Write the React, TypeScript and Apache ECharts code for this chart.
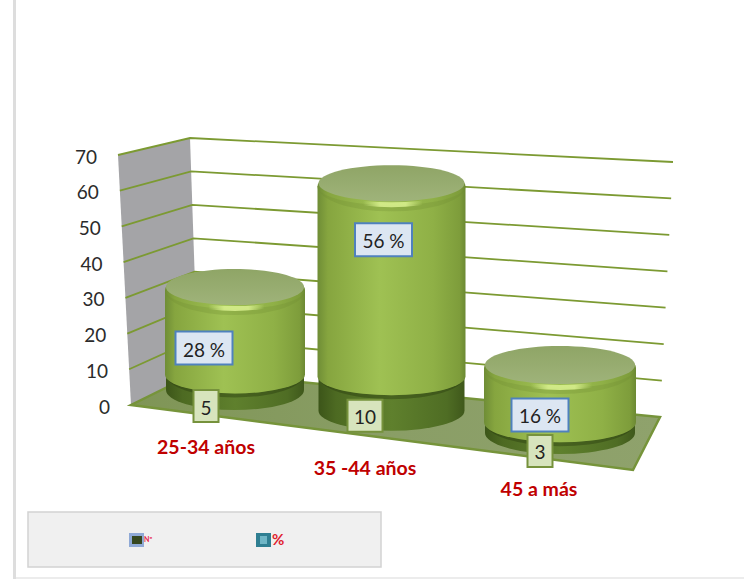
import React, { useEffect, useRef } from "react";
import * as echarts from "echarts";

// Chart data
const categories = ["25-34 años", "35 -44 años", "45 a más"];
const counts = [5, 10, 3];
const percents = [28, 56, 16];
const yTicks = [0, 10, 20, 30, 40, 50, 60, 70];

// Scene geometry for the tilted 3D plot box
const GRID = { left: 150, top: 165, width: 492, height: 240 };
const floorA = [131, 405];
const floorB = [633, 470];
const floorC = [660, 417];
const floorD = [198, 372];
const topA = [118, 155];
const topD = [190, 138];
const topC = [673, 162];

const cylinderLayout = [
  { nudge: 3, rx: 70, ry: 19, k: 0.91, pctDx: -31, pctDy: -42, cntDy: 16, catY: 446, cntX: 206, catX: 206 },
  { nudge: -4.5, rx: 74, ry: 19, k: 1.005, pctDx: -8, pctDy: -171, cntDy: 5, catY: 467, cntX: 365, catX: 365 },
  { nudge: 0, rx: 76, ry: 20, k: 1.044, pctDx: -20, pctDy: -18, cntDy: 18, catY: 488, cntX: 540, catX: 539 },
];

const lerp = (a: number[], b: number[], t: number) => [a[0] + (b[0] - a[0]) * t, a[1] + (b[1] - a[1]) * t];
const LG = (x2: number, y2: number, stops: [number, string][]) =>
  new echarts.graphic.LinearGradient(0, 0, x2, y2, stops.map(([offset, color]) => ({ offset, color })));

const fracOf = (api: any, v: number) => (GRID.top + GRID.height - api.coord([0, v])[1]) / GRID.height;

// Wall, floor and the gridline for each tick
function renderWalls() {
  return {
    type: "group",
    children: [
      {
        type: "polygon",
        shape: { points: [floorA, topA, topD, floorD] },
        style: { fill: "#a4a4a7" },
      },
      {
        type: "polygon",
        shape: { points: [floorA, floorB, floorC, floorD] },
        style: {
          fill: LG(1, 0, [[0, "#7f9556"], [0.5, "#8a9e66"], [1, "#8fa26c"]]),
          stroke: "#76943a",
          lineWidth: 2.5,
        },
      },
    ],
  };
}

function renderGridline(_p: any, api: any) {
  const f = fracOf(api, api.value(1));
  const a = lerp(floorA, topA, f);
  const d = lerp(floorD, topD, f);
  const c = lerp(floorC, topC, f);
  if (api.value(1) === 0) return { type: "group", children: [] };
  return {
    type: "polyline",
    shape: { points: [a, d, c] },
    style: { stroke: "#7c9a32", lineWidth: 1.8, fill: "none" },
  };
}

function renderTickLabel(_p: any, api: any) {
  const v = api.value(1);
  const f = fracOf(api, v);
  const a = lerp(floorA, topA, f);
  return {
    type: "text",
    style: {
      text: String(v),
      x: a[0] - 21,
      y: a[1] + 1,
      textAlign: "right",
      verticalAlign: "middle",
      font: "19px Lato",
      fill: "#2b2b2b",
    },
  };
}

// Base ellipse centre of a cylinder, following the slope of the floor
const placement = (api: any, i: number) => {
  const lay = cylinderLayout[i];
  const cx = api.coord([i, 0])[0] + lay.nudge;
  const baseY = 390 + (cx - 235) * 0.1323;
  const scaled = (v: number) => baseY - (GRID.top + GRID.height - api.coord([i, v])[1]) * lay.k;
  return { lay, cx, baseY, scaled };
};

const tube = (cx: number, rx: number, ry: number, topY: number, botY: number) => {
  const L = cx - rx;
  const R = cx + rx;
  return `M${L} ${topY}L${L} ${botY}A${rx} ${ry} 0 0 0 ${R} ${botY}L${R} ${topY}Z`;
};

const crescent = (cx: number, rx: number, ry: number, y: number, extra: number) =>
  `M${cx - rx} ${y}A${rx} ${ry + extra} 0 0 0 ${cx + rx} ${y}A${rx} ${ry} 0 0 1 ${cx - rx} ${y}Z`;

const bodyStops: [number, string][] = [
  [0, "#6f8d36"],
  [0.07, "#86a53f"],
  [0.42, "#9fc153"],
  [0.78, "#8fb046"],
  [0.96, "#7e9d3b"],
  [1, "#6c8933"],
];

function renderCountSegment(_p: any, api: any) {
  const i = api.value(0);
  const { lay, cx, baseY, scaled } = placement(api, i);
  const seamY = scaled(api.value(1));
  const { rx, ry } = lay;
  return {
    type: "group",
    children: [
      {
        type: "path",
        shape: { pathData: tube(cx, rx - 1, ry + 1, seamY, baseY) },
        style: {
          fill: LG(1, 0, [[0, "#3c5519"], [0.12, "#4d6a22"], [0.5, "#5f802d"], [0.88, "#4f6d24"], [1, "#3f581b"]]),
        },
      },
      {
        // shadow cast just under the lighter segment
        type: "path",
        shape: { pathData: crescent(cx, rx - 1, ry, seamY, 4) },
        style: { fill: "rgba(38,56,12,0.4)" },
      },
    ],
  };
}

function renderPercentSegment(_p: any, api: any) {
  const i = api.value(0);
  const { lay, cx, scaled } = placement(api, i);
  const count = api.value(1);
  const pct = api.value(2);
  const seamY = scaled(count);
  const topY = scaled(count + pct);
  const { rx, ry } = lay;
  return {
    type: "group",
    children: [
      {
        type: "path",
        shape: { pathData: tube(cx, rx, ry, topY + 3, seamY) },
        style: { fill: LG(1, 0, bodyStops) },
      },
      {
        // rounded shoulder, same side shading as the body
        type: "ellipse",
        shape: { cx, cy: topY + 3, rx, ry: ry + 1 },
        style: { fill: LG(1, 0, bodyStops) },
      },
      {
        type: "path",
        shape: { pathData: crescent(cx, rx, ry, topY + 3, 6) },
        style: { fill: "rgba(110,140,50,0.28)" },
      },
      {
        // specular streak along the front of the rim
        type: "path",
        shape: { pathData: crescent(cx, rx - 3, ry - 1, topY + 1, 5) },
        style: {
          fill: LG(1, 0, [
            [0.3, "rgba(214,238,140,0)"],
            [0.42, "rgba(214,238,140,0.9)"],
            [0.6, "rgba(214,238,140,0.9)"],
            [0.72, "rgba(214,238,140,0)"],
          ]),
        },
      },
      {
        type: "ellipse",
        shape: { cx, cy: topY, rx: rx - 1, ry: ry - 1 },
        style: { fill: LG(0, 1, [[0, "#8fa566"], [1, "#9fb37a"]]) },
      },
    ],
  };
}

const labelBox = (cx: number, cy: number, w: number, h: number, fill: string, stroke: string, text: string) => [
  {
    type: "rect",
    shape: { x: cx - w / 2, y: cy - h / 2, width: w, height: h },
    style: { fill, stroke, lineWidth: 2 },
  },
  {
    type: "text",
    style: {
      text,
      x: cx,
      y: cy + 1,
      textAlign: "center",
      verticalAlign: "middle",
      font: "19px Lato",
      fill: "#222222",
    },
  },
];

function renderLabels(_p: any, api: any) {
  const i = api.value(0);
  const { lay, cx, baseY } = placement(api, i);
  const cntW = String(counts[i]).length > 1 ? 35 : 25;
  return {
    type: "group",
    children: [
      ...labelBox(cx + lay.pctDx, baseY + lay.pctDy, 57, 33, "#dce6f2", "#4f81bd", `${percents[i]} %`),
      ...labelBox(lay.cntX, baseY + lay.cntDy, cntW, 32, "#d7e4bd", "#76923c", String(counts[i])),
      {
        type: "text",
        style: {
          text: categories[i],
          x: lay.catX,
          y: lay.catY,
          textAlign: "center",
          verticalAlign: "middle",
          font: "bold 19.5px Lato",
          fill: "#c00000",
        },
      },
    ],
  };
}

const legendGraphic = [
  { type: "rect", left: 13, top: 0, shape: { width: 3, height: 579 }, style: { fill: "#dddddd" } },
  { type: "rect", left: 16, top: 577, shape: { width: 728, height: 2 }, style: { fill: "#ececec" } },
  {
    type: "rect",
    shape: { x: 28, y: 512, width: 353, height: 55 },
    style: { fill: "#f0f0f0", stroke: "#d2d2d2", lineWidth: 1.5 },
  },
  { type: "rect", shape: { x: 129, y: 533, width: 15, height: 14 }, style: { fill: "#8fa9d6" } },
  { type: "rect", shape: { x: 132, y: 536, width: 10, height: 8 }, style: { fill: "#36471f" } },
  {
    type: "text",
    style: { text: "Nº", x: 144, y: 535, font: "bold 7px Lato", fill: "#e8204a" },
  },
  { type: "rect", shape: { x: 256, y: 533, width: 15, height: 14 }, style: { fill: "#2f7f92" } },
  { type: "rect", shape: { x: 260, y: 536, width: 7, height: 8 }, style: { fill: "#6fb6c6" } },
  {
    type: "text",
    style: { text: "%", x: 272, y: 531, font: "bold 15px Lato", fill: "#e0202c" },
  },
];

export default function App() {
  const ref = useRef<HTMLDivElement>(null);
  useEffect(() => {
    const chart = echarts.init(ref.current!, null, { renderer: "svg" });
    const idx = categories.map((_, i) => i);
    chart.setOption({
      animation: false,
      backgroundColor: "#ffffff",
      grid: { ...GRID },
      xAxis: { type: "category", data: categories, show: false },
      yAxis: { type: "value", min: 0, max: 70, interval: 10, show: false },
      graphic: legendGraphic,
      series: [
        { type: "custom", name: "walls", data: [[0, 0]], renderItem: renderWalls, silent: true, z: 1 },
        {
          type: "custom",
          name: "grid",
          data: yTicks.map((t) => [0, t]),
          renderItem: renderGridline,
          silent: true,
          z: 2,
        },
        {
          type: "custom",
          name: "ticks",
          data: yTicks.map((t) => [0, t]),
          renderItem: renderTickLabel,
          silent: true,
          z: 2,
        },
        {
          type: "custom",
          name: "Nº",
          data: idx.map((i) => [i, counts[i]]),
          renderItem: renderCountSegment,
          z: 3,
        },
        {
          type: "custom",
          name: "%",
          data: idx.map((i) => [i, counts[i], percents[i]]),
          renderItem: renderPercentSegment,
          z: 4,
        },
        {
          type: "custom",
          name: "labels",
          data: idx.map((i) => [i, counts[i]]),
          renderItem: renderLabels,
          z: 5,
        },
      ],
    });
    return () => chart.dispose();
  }, []);
  return <div ref={ref} style={{ position: "absolute", left: 0, top: 0, width: 744, height: 579 }} />;
}
